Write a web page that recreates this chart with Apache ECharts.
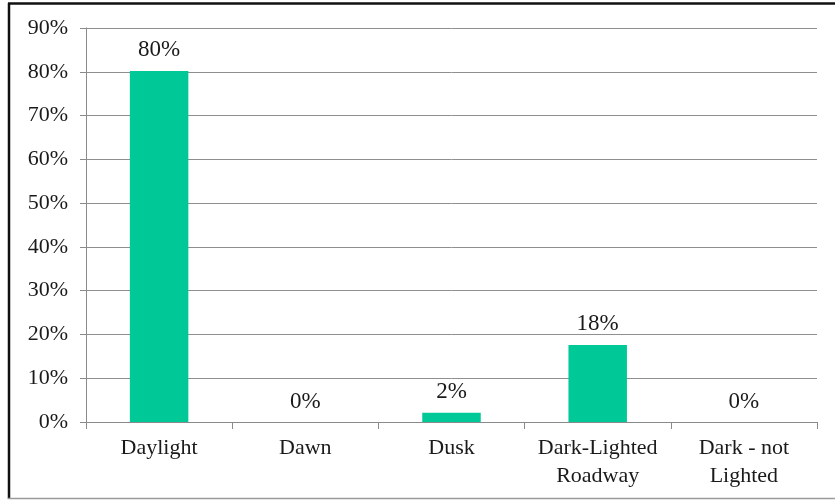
<!DOCTYPE html>
<html>
<head>
<meta charset="utf-8">
<script src="https://cdn.jsdelivr.net/npm/echarts@6/dist/echarts.min.js"></script>
<style>
  html, body { margin: 0; padding: 0; background: #fff; }
  #chart { width: 835px; height: 501px; }
</style>
</head>
<body>
<div id="chart"></div>
<script>
// Share of crashes by light condition
const categories = ['Daylight', 'Dawn', 'Dusk', 'Dark-Lighted\nRoadway', 'Dark - not\nLighted'];
const shares = [80.2, 0, 2.1, 17.6, 0];
const yTicks = [0, 10, 20, 30, 40, 50, 60, 70, 80, 90];

const FONT = '"Liberation Serif", "Times New Roman", serif';
const chart = echarts.init(document.getElementById('chart'));

chart.setOption({
  animation: false,
  backgroundColor: '#ffffff',
  grid: { left: 86, right: 18, top: 28, bottom: 79 },
  xAxis: {
    type: 'category',
    data: categories,
    axisLine: { lineStyle: { color: '#8a8a8a', width: 1 } },
    axisTick: { show: true, length: 7, lineStyle: { color: '#8a8a8a' } },
    axisLabel: {
      color: '#1a1a1a',
      fontFamily: FONT,
      fontSize: 22,
      lineHeight: 28,
      margin: 12,
      interval: 0
    }
  },
  yAxis: {
    type: 'value',
    min: yTicks[0],
    max: yTicks[yTicks.length - 1],
    interval: 10,
    axisLine: { show: true, lineStyle: { color: '#8a8a8a', width: 1 } },
    axisTick: { show: true, length: 6, lineStyle: { color: '#8a8a8a' } },
    splitLine: { lineStyle: { color: '#8f8f8f', width: 1 } },
    axisLabel: {
      color: '#1a1a1a',
      fontFamily: FONT,
      fontSize: 22,
      margin: 18,
      formatter: v => v + '%'
    }
  },
  series: [{
    type: 'bar',
    data: shares,
    barWidth: '40%',
    itemStyle: { color: '#00c896' },
    label: {
      show: true,
      position: 'top',
      distance: 9,
      color: '#1a1a1a',
      fontFamily: FONT,
      fontSize: 23,
      formatter: p => Math.round(p.value) + '%'
    }
  }],
  graphic: [
    { type: 'line', shape: { x1: 8, y1: 3.5, x2: 840, y2: 3.5 }, style: { stroke: '#111', lineWidth: 2.5 } },
    { type: 'line', shape: { x1: 9, y1: 3, x2: 9, y2: 499 }, style: { stroke: '#111', lineWidth: 2.5 } },
    { type: 'line', shape: { x1: 8, y1: 498.5, x2: 840, y2: 498.5 }, style: { stroke: '#9a9a9a', lineWidth: 1.5 } }
  ]
});
</script>
</body>
</html>
